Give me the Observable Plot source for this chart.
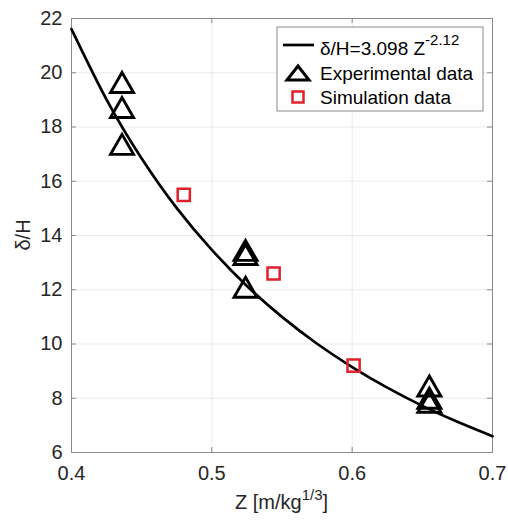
<!DOCTYPE html>
<html>
<head>
<meta charset="utf-8">
<script src="https://cdn.jsdelivr.net/npm/d3@7"></script>
<script src="https://cdn.jsdelivr.net/npm/@observablehq/plot@0.6"></script>
<style>
  html, body { margin: 0; padding: 0; background: #fff; }
  svg { display: block; }
</style>
</head>
<body>
<div id="chart"></div>
<script>
// ---- data ----
const xTicks = [0.4, 0.5, 0.6, 0.7];
const yTicks = [6, 8, 10, 12, 14, 16, 18, 20, 22];

// fitted curve δ/H = 3.098 Z^-2.12
const curveZ  = [0.400, 0.425, 0.450, 0.475, 0.500, 0.525, 0.550, 0.575, 0.600, 0.625, 0.650, 0.675, 0.700];
const curveDH = [21.61, 19.01, 16.84, 15.01, 13.47, 12.14, 11.00, 10.01, 9.15, 8.39, 7.72, 7.13, 6.60];

// experimental data (triangles)
const expZ  = [0.436, 0.436, 0.436, 0.524, 0.524, 0.524, 0.655, 0.655, 0.655];
const expDH = [19.64, 18.72, 17.36, 13.45, 13.30, 12.09, 8.45, 8.00, 7.85];

// simulation data (squares)
const simZ  = [0.480, 0.544, 0.601];
const simDH = [15.5, 12.6, 9.2];

const legendLabels = ["δ/H=3.098 Z", "-2.12", "Experimental data", "Simulation data"];

// ---- build ----
const W = 508, H = 521;
const mL = 71, mR = 16, mT = 18, mB = 69;
const innerW = W - mL - mR, innerH = H - mT - mB;

const curve = curveZ.map((z, i) => ({z, dh: curveDH[i]}));
const exp = expZ.map((z, i) => ({z, dh: expDH[i]}));
const sim = simZ.map((z, i) => ({z, dh: simDH[i]}));

const triangle = {
  draw(ctx, size) {
    const r = Math.sqrt(size / Math.PI);
    const h = r * 1.0, w = r * 1.15;
    ctx.moveTo(0, -h);
    ctx.lineTo(w, h);
    ctx.lineTo(-w, h);
    ctx.closePath();
  }
};
const square = {
  draw(ctx, size) {
    const r = Math.sqrt(size / Math.PI);
    const s = r * 0.95;
    ctx.moveTo(-s, -s);
    ctx.lineTo(s, -s);
    ctx.lineTo(s, s);
    ctx.lineTo(-s, s);
    ctx.closePath();
  }
};

const textColor = "#262626";
const axisColor = "#8a8a8a";
const red = "#e0202a";

const svg = Plot.plot({
  width: W,
  height: H,
  marginLeft: mL,
  marginRight: mR,
  marginTop: mT,
  marginBottom: mB,
  style: {
    fontFamily: "'Liberation Sans', Arial, Helvetica, sans-serif",
    fontSize: "20px",
    color: textColor,
    background: "#fff"
  },
  x: {domain: [0.4, 0.7]},
  y: {domain: [6, 22]},
  marks: [
    Plot.gridX(xTicks.slice(1, -1), {stroke: textColor, strokeOpacity: 0.09}),
    Plot.gridY(yTicks.slice(1, -1), {stroke: textColor, strokeOpacity: 0.09}),
    Plot.axisX(xTicks, {tickSize: 0, tickPadding: 13, tickFormat: d => d.toFixed(1), label: null, fill: textColor}),
    Plot.axisY(yTicks, {tickSize: 0, tickPadding: 9, label: null, fill: textColor}),
    // inward ticks on all four sides
    Plot.tickX(xTicks, {x: d => d, insetTop: innerH - 5, stroke: axisColor}),
    Plot.tickX(xTicks, {x: d => d, insetBottom: innerH - 5, stroke: axisColor}),
    Plot.tickY(yTicks, {y: d => d, insetRight: innerW - 5, stroke: axisColor}),
    Plot.tickY(yTicks, {y: d => d, insetLeft: innerW - 5, stroke: axisColor}),
    Plot.frame({stroke: axisColor, strokeWidth: 1}),
    Plot.line(curve, {x: "z", y: "dh", stroke: "black", strokeWidth: 2.7, curve: "natural"}),
    Plot.dot(exp, {x: "z", y: "dh", symbol: triangle, r: 10, fill: "none", stroke: "black", strokeWidth: 2.9}),
    Plot.dot(sim, {x: "z", y: "dh", symbol: square, r: 6.4, fill: "none", stroke: red, strokeWidth: 2.5})
  ]
});

const s = d3.select(svg);
const font = "'Liberation Sans', Arial, Helvetica, sans-serif";

// x axis label with superscript
const xl = s.append("text")
  .attr("x", mL + innerW / 2)
  .attr("y", 509)
  .attr("text-anchor", "middle")
  .attr("font-family", font)
  .attr("font-size", 20)
  .attr("fill", textColor);
xl.append("tspan").text("Z [m/kg");
xl.append("tspan").attr("dy", -9).attr("font-size", 15).text("1/3");
xl.append("tspan").attr("dy", 9).text("]");

// y axis label
s.append("text")
  .attr("transform", `translate(30,${mT + innerH / 2}) rotate(-90)`)
  .attr("text-anchor", "middle")
  .attr("font-family", font)
  .attr("font-size", 20)
  .attr("fill", textColor)
  .text("δ/H");

// legend
const lg = s.append("g").attr("font-family", font).attr("font-size", 19)
  .attr("fill", "#000").attr("text-anchor", "start");
lg.append("rect").attr("x", 277).attr("y", 27).attr("width", 206).attr("height", 84)
  .attr("fill", "#fff").attr("stroke", axisColor).attr("stroke-width", 1);
lg.append("line").attr("x1", 283).attr("x2", 314).attr("y1", 45).attr("y2", 45)
  .attr("stroke", "black").attr("stroke-width", 2.7);
const t1 = lg.append("text").attr("x", 320).attr("y", 55);
t1.append("tspan").text(legendLabels[0]);
t1.append("tspan").attr("dy", -10).attr("font-size", 15).text(legendLabels[1]);
lg.append("path").attr("d", "M298,66 L309,80 L287,80 Z")
  .attr("fill", "none").attr("stroke", "black").attr("stroke-width", 3);
lg.append("text").attr("x", 320).attr("y", 80).text(legendLabels[2]);
lg.append("rect").attr("x", 292.5).attr("y", 91.5).attr("width", 11).attr("height", 11)
  .attr("fill", "none").attr("stroke", red).attr("stroke-width", 2.5);
lg.append("text").attr("x", 320).attr("y", 104).text(legendLabels[3]);

document.getElementById("chart").appendChild(svg);
</script>
</body>
</html>
